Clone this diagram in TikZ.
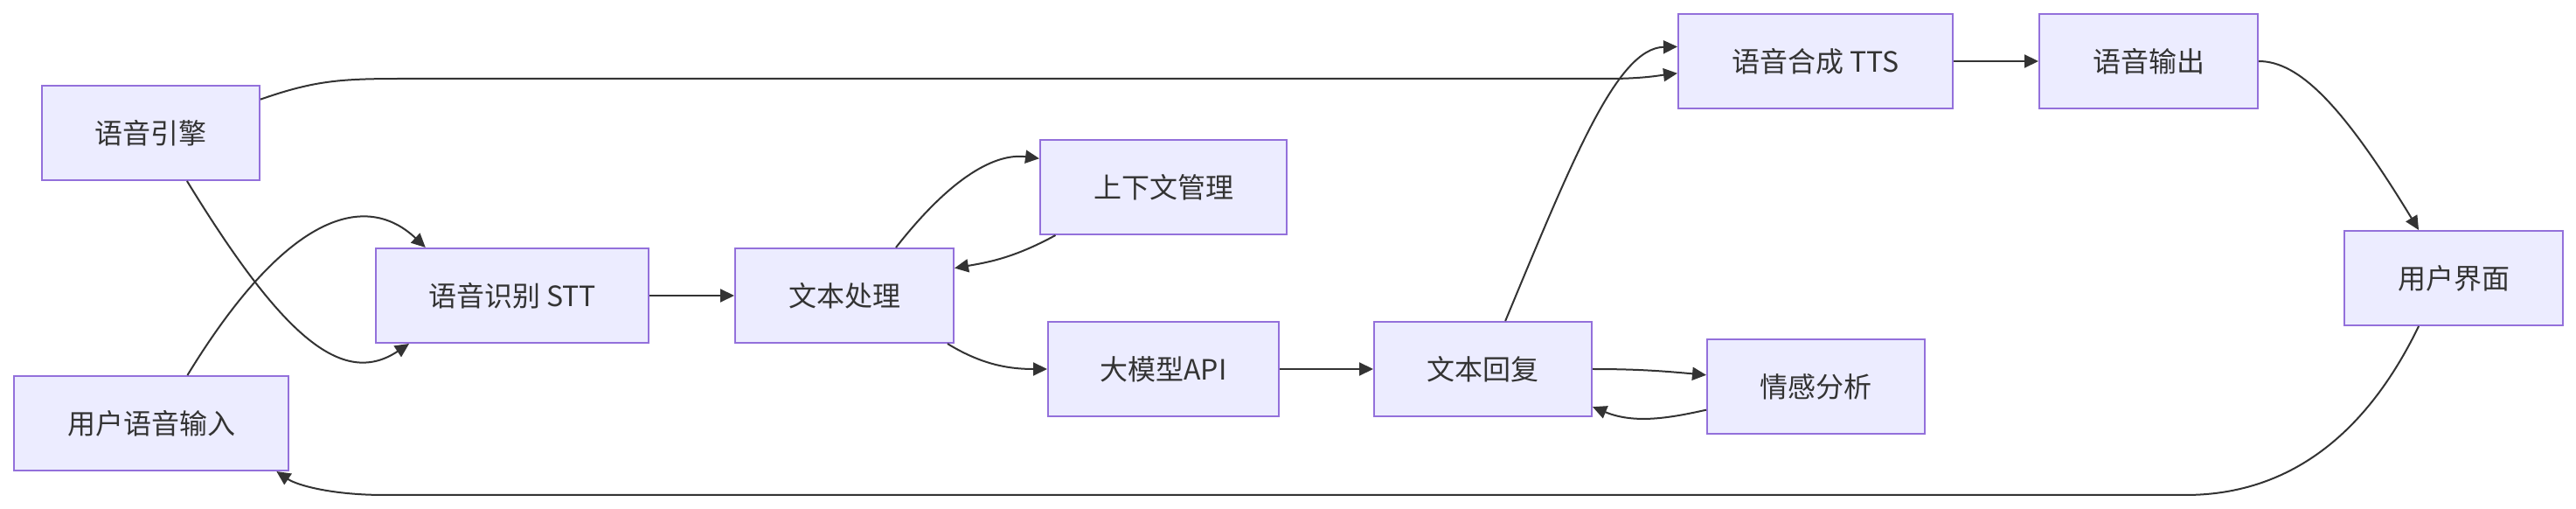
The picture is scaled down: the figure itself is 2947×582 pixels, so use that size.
\documentclass[tikz,border=0pt]{standalone}
\usepackage{fontspec}
\setmainfont{Noto Sans CJK SC}
\usepackage{tikz}
\usetikzlibrary{arrows.meta}
\definecolor{mmfill}{HTML}{ECECFF}
\definecolor{mmborder}{HTML}{9370DB}
\definecolor{mmline}{HTML}{333333}
\tikzset{
  blk/.style={draw=mmborder, fill=mmfill, line width=1pt, minimum height=54pt,
    inner sep=0pt, text=mmline, font=\fontsize{16pt}{19pt}\selectfont},
  lnk/.style={draw=mmline, line width=1pt, -{Triangle[length=8pt,width=7.5pt]}}
}
\begin{document}
\begin{tikzpicture}[x=0.5pt, y=-0.5pt]
    \useasboundingbox (0,0) rectangle (2947,582);

    \node [blk, minimum width=124.5pt] (engine) at (172.5,152) {语音引擎};
    \node [blk, minimum width=157pt] (input) at (173,484) {用户语音输入};
    \node [blk, minimum width=156pt] (stt) at (586,338) {语音识别 STT};
    \node [blk, minimum width=125pt] (proc) at (966,338) {文本处理};
    \node [blk, minimum width=141pt] (ctx) at (1331,214) {上下文管理};
    \node [blk, minimum width=132pt] (llm) at (1331,422) {大模型API};
    \node [blk, minimum width=124.5pt] (reply) at (1696.5,422) {文本回复};
    \node [blk, minimum width=124.5pt] (emo) at (2077.5,442) {情感分析};
    \node [blk, minimum width=157pt] (tts) at (2077,70) {语音合成 TTS};
    \node [blk, minimum width=125pt] (out) at (2458,70) {语音输出};
    \node [blk, minimum width=125pt] (ui) at (2807,318) {用户界面};

    % input side
    \draw [lnk] (input.53) .. controls (330,240) and (420,220) .. (stt.151);
    \draw [lnk] (engine.-53) .. controls (320,380) and (390,445) .. (stt.205);
    \draw [lnk] (engine.17) .. controls (360,92) and (390,90) .. (460,90)
        -- (1840,90) .. controls (1880,90) and (1900,86) .. (tts.185);
    \draw [lnk] (stt.east) -- (proc.west);

    % text handling
    \draw [lnk] (proc.43) .. controls (1090,200) and (1140,175) .. (ctx.167);
    \draw [lnk] (ctx.204) .. controls (1160,295) and (1130,300) .. (proc.14);
    \draw [lnk] (proc.-25) .. controls (1120,415) and (1150,422) .. (llm.west);
    \draw [lnk] (llm.east) -- (reply.west);
    \draw [lnk] (reply.east) .. controls (1870,422) and (1900,424) .. (emo.174);
    \draw [lnk] (emo.192) .. controls (1910,478) and (1870,485) .. (reply.-19.5);

    % output side
    \draw [lnk] (reply.65) .. controls (1800,180) and (1850,55) .. (tts.174);
    \draw [lnk] (tts.east) -- (out.west);
    \draw [lnk] (out.east) .. controls (2630,70) and (2680,120) .. (ui.126);
    \draw [lnk] (ui.234) .. controls (2720,470) and (2640,566) .. (2500,566)
        -- (440,566) .. controls (380,566) and (340,555) .. (input.-21);
\end{tikzpicture}
\end{document}
